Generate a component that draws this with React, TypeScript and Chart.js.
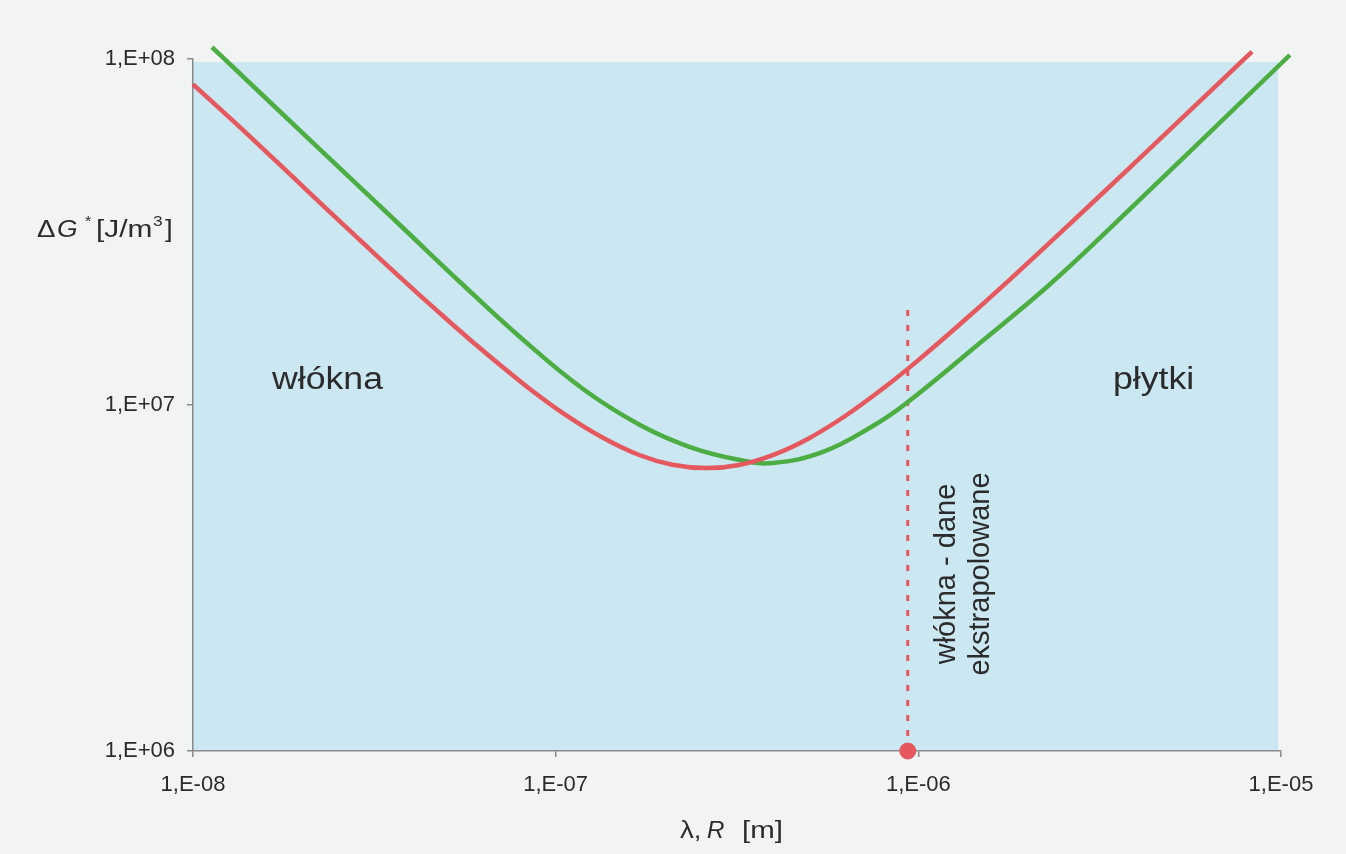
import React, { useEffect, useRef } from "react";
import { Chart, registerables } from "chart.js";

Chart.register(...registerables);

// ---- data ----
const lambdaRed = [1e-8, 1.4e-8, 2e-8, 2.8e-8, 3.7e-8, 4.6e-8, 6e-8, 8.2e-8, 1.05e-7, 1.35e-7, 1.7e-7, 2.1e-7, 2.6e-7, 3.2e-7, 4e-7, 5e-7, 6.3e-7, 8e-7, 1e-6, 1.3e-6, 1.8e-6, 2.6e-6, 4e-6, 8.32e-6];
const dgRed = [8.45e7, 6.12e7, 4.3e7, 3.085e7, 2.355e7, 1.915e7, 1.499e7, 1.145e7, 9.46e6, 8.04e6, 7.17e6, 6.72e6, 6.57e6, 6.71e6, 7.19e6, 8.02e6, 9.31e6, 1.117e7, 1.348e7, 1.708e7, 2.32e7, 3.317e7, 5.07e7, 1.05e8];

const lambdaGreen = [1.128e-8, 2.142e-8, 3.72e-8, 5.446e-8, 7.97e-8, 1.19e-7, 1.708e-7, 2.346e-7, 3.222e-7, 3.973e-7, 5.457e-7, 7.494e-7, 9.36e-7, 1.478e-6, 2.262e-6, 3.168e-6, 1.058e-5];
const dgGreen = [1.083e8, 5.72e7, 3.313e7, 2.267e7, 1.572e7, 1.112e7, 8.753e6, 7.561e6, 6.934e6, 6.798e6, 7.316e6, 8.695e6, 1.02e7, 1.511e7, 2.193e7, 3.039e7, 1.027e8];

const limitLambda = [9.35e-7, 9.35e-7];
const limitDg = [1e6, 1.95e7];

const xTickValues = [1e-8, 1e-7, 1e-6, 1e-5];
const xTickLabels = ["1,E-08", "1,E-07", "1,E-06", "1,E-05"];
const yTickValues = [1e6, 1e7, 1e8];
const yTickLabels = ["1,E+06", "1,E+07", "1,E+08"];

const RED = "#e4585e";
const GREEN = "#4cad43";
const TEXT = "#2b2b2b";
const AXIS = "#8a8a8a";
const FONT = "'Liberation Sans', Arial, sans-serif";

function pts(xs: number[], ys: number[]) {
  return xs.map((x, i) => ({ x, y: ys[i] }));
}

function txt(ctx: CanvasRenderingContext2D, s: string, x: number, y: number, font: string, sx = 1) {
  ctx.save();
  ctx.translate(x, y);
  ctx.scale(sx, 1);
  ctx.font = font;
  ctx.fillText(s, 0, 0);
  ctx.restore();
}

const decor = {
  id: "decor",
  beforeDraw(chart: any) {
    const { ctx, chartArea: a } = chart;
    ctx.save();
    ctx.fillStyle = "#f1f4f3";
    ctx.fillRect(0, 0, chart.width, chart.height);
    ctx.fillStyle = "#cbe7f2";
    ctx.fillRect(a.left, a.top + 3, a.right - a.left - 3, a.bottom - a.top - 3);
    ctx.restore();
  },
  afterDraw(chart: any) {
    const ctx: CanvasRenderingContext2D = chart.ctx;
    ctx.save();
    ctx.fillStyle = TEXT;
    ctx.textAlign = "left";
    ctx.textBaseline = "alphabetic";
    const f = (s: number, it = false) => `${it ? "italic " : ""}${s}px ${FONT}`;
    // y axis title: ΔG* [J/m3]
    txt(ctx, "\u0394", 37, 237, f(23), 1.2);
    txt(ctx, "G", 57, 237, f(23, true), 1.15);
    txt(ctx, "*", 85, 226, f(15), 1.1);
    txt(ctx, "[J/m", 96, 237, f(23), 1.3);
    txt(ctx, "3", 153, 226, f(15), 1.15);
    txt(ctx, "]", 165, 237, f(23), 1.2);
    // x axis title: λ, R [m]
    txt(ctx, "\u03bb,", 680, 838, f(23), 1.2);
    txt(ctx, "R", 707, 838, f(23, true), 1.05);
    txt(ctx, "[m]", 742, 838, f(23), 1.28);
    // region labels
    txt(ctx, "włókna", 272, 389, f(31), 1.15);
    txt(ctx, "płytki", 1113, 389, f(31), 1.15);
    // rotated note
    ctx.font = f(29);
    ctx.textAlign = "center";
    ctx.save();
    ctx.translate(955, 574);
    ctx.rotate(-Math.PI / 2);
    ctx.fillText("włókna - dane", 0, 0);
    ctx.restore();
    ctx.save();
    ctx.translate(989, 574);
    ctx.rotate(-Math.PI / 2);
    ctx.fillText("ekstrapolowane", 0, 0);
    ctx.restore();
    ctx.restore();
  },
};

export default function App() {
  const ref = useRef<HTMLCanvasElement | null>(null);
  useEffect(() => {
    if (!ref.current) return;
    const chart = new Chart(ref.current, {
      type: "scatter",
      data: {
        datasets: [
          {
            label: "red",
            data: pts(lambdaRed, dgRed),
            showLine: true,
            borderColor: RED,
            backgroundColor: RED,
            borderWidth: 4.5,
            pointRadius: 0,
            tension: 0.4,
            clip: false,
          },
          {
            label: "green",
            data: pts(lambdaGreen, dgGreen),
            showLine: true,
            borderColor: GREEN,
            backgroundColor: GREEN,
            borderWidth: 4.5,
            pointRadius: 0,
            tension: 0.4,
            clip: false,
          },
          {
            label: "limit",
            data: pts(limitLambda, limitDg),
            showLine: true,
            borderColor: RED,
            borderWidth: 3,
            borderDash: [6, 9],
            pointRadius: 0,
            clip: false,
          },
          {
            label: "dot",
            data: pts(limitLambda.slice(0, 1), limitDg.slice(0, 1)),
            showLine: false,
            pointRadius: 8,
            pointBackgroundColor: RED,
            pointBorderColor: RED,
            clip: false,
          },
        ],
      },
      options: {
        animation: false,
        responsive: false,
        maintainAspectRatio: false,
        layout: { padding: { top: 59, right: 65, left: 0, bottom: 0 } },
        plugins: { legend: { display: false }, tooltip: { enabled: false } },
        scales: {
          x: {
            type: "logarithmic",
            min: 1e-8,
            max: 1e-5,
            afterBuildTicks: (s: any) => {
              s.ticks = xTickValues.map((v) => ({ value: v }));
            },
            afterFit: (s: any) => {
              s.height = 103;
            },
            ticks: {
              autoSkip: false,
              maxRotation: 0,
              padding: 15,
              color: TEXT,
              font: { family: FONT, size: 22 },
              callback: (v: any) => xTickLabels[xTickValues.indexOf(Number(v))] ?? "",
            },
            grid: { drawOnChartArea: false, drawTicks: true, tickLength: 6, color: AXIS, lineWidth: 1.5 },
            border: { display: true, color: AXIS, width: 1.5 },
          },
          y: {
            type: "logarithmic",
            min: 1e6,
            max: 1e8,
            afterBuildTicks: (s: any) => {
              s.ticks = yTickValues.map((v) => ({ value: v }));
            },
            afterFit: (s: any) => {
              s.width = 193;
            },
            ticks: {
              autoSkip: false,
              padding: 12,
              color: TEXT,
              font: { family: FONT, size: 22 },
              callback: (v: any) => yTickLabels[yTickValues.indexOf(Number(v))] ?? "",
            },
            grid: { drawOnChartArea: false, drawTicks: true, tickLength: 6, color: AXIS, lineWidth: 1.5 },
            border: { display: true, color: AXIS, width: 1.5 },
          },
        },
      },
      plugins: [decor],
    } as any);
    return () => chart.destroy();
  }, []);
  return (
    <div style={{ position: "fixed", left: 0, top: 0, width: 1346, height: 854, background: "#f1f4f3" }}>
      <canvas ref={ref} width={1346} height={854} style={{ width: 1346, height: 854, display: "block" }} />
    </div>
  );
}
